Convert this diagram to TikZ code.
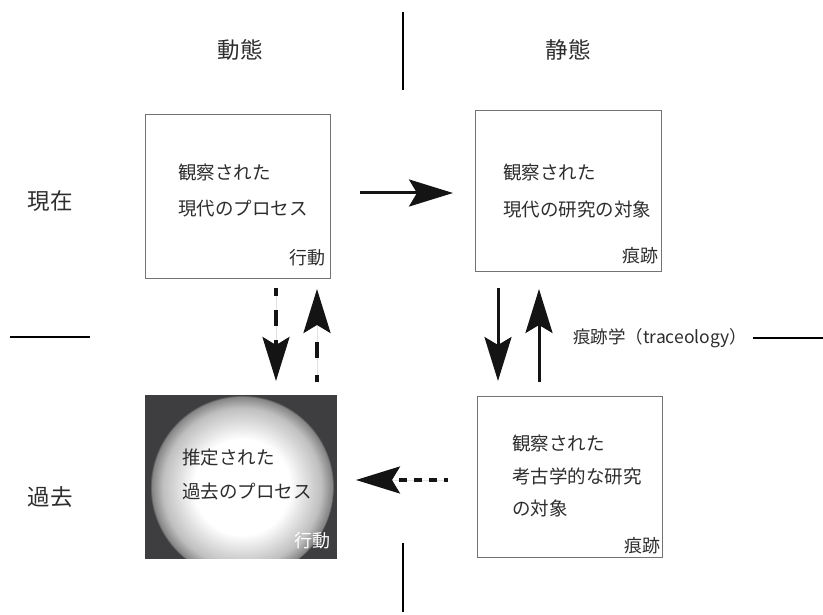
\documentclass[tikz,border=0pt]{standalone}
\usepackage{fontspec}
\setmainfont{Noto Sans CJK JP}
\usetikzlibrary{arrows.meta}
\definecolor{txt}{RGB}{45,45,45}
\definecolor{darkbox}{RGB}{62,62,65}
\pgfdeclareradialshading{glow}{\pgfpoint{0bp}{0bp}}{color(0bp)=(white); color(13bp)=(white); color(21.5bp)=(black!25); color(24.5bp)=(black!48); color(25bp)=(darkbox); color(50bp)=(darkbox)}
\tikzset{
  hdr/.style={font=\fontsize{22.5}{26}\selectfont, text=txt, inner sep=0pt},
  btxt/.style={font=\fontsize{18.5}{22}\selectfont, text=txt, inner sep=0pt, anchor=west},
  lbl/.style={font=\fontsize{18}{20}\selectfont, text=txt, inner sep=0pt, anchor=east},
  panel/.style={draw=black!55, line width=1pt, inner sep=0pt},
  sep/.style={line width=1.1pt, draw=black},
  bigtip/.style={-{Stealth[length=44pt,width=27pt,inset=8pt]}},
  solidarrow/.style={bigtip, line width=3pt, draw=black!92, fill=black!92},
  dasharrow/.style={bigtip, line width=3.3pt, draw=black!92, fill=black!92}
}
\begin{document}
\begin{tikzpicture}[x=1pt,y=-1pt]
\useasboundingbox (0,0) rectangle (823,615);
% separator lines
\coordinate (vt1) at (403,12); \coordinate (vt2) at (403,90);
\coordinate (vb1) at (403,543); \coordinate (vb2) at (403,612);
\coordinate (hl1) at (10,337); \coordinate (hl2) at (90,337);
\coordinate (hr1) at (753,338); \coordinate (hr2) at (823,338);
\draw[sep] (vt1) -- (vt2);
\draw[sep] (vb1) -- (vb2);
\draw[sep] (hl1) -- (hl2);
\draw[sep] (hr1) -- (hr2);
% headers
\node[hdr] (dyn) at (240,50) {動態};
\node[hdr] (sta) at (568,50) {静態};
\node[hdr] (now) at (50,201) {現在};
\node[hdr] (past) at (50,497) {過去};
% boxes
\node[panel, minimum width=185pt, minimum height=164pt] (b1) at (237.5,197) {};
\node[panel, minimum width=186pt, minimum height=161pt] (b2) at (568,191.5) {};
\node[panel, draw=darkbox, fill=darkbox, minimum width=191pt, minimum height=163pt] (b3) at (240.5,476.5) {};
\node[panel, minimum width=185pt, minimum height=161pt] (b4) at (569.5,476.5) {};
\begin{scope}
  \clip (b3.south west) rectangle (b3.north east);
  \shade[shading=glow] (242,487) circle[radius=92];
\end{scope}
% box texts
\node[btxt] (t1a) at (178,172) {観察された};
\node[btxt] (t1b) at (178,209) {現代のプロセス};
\node[lbl] (l1) at (326,258) {行動};
\node[btxt] (t2a) at (503,172) {観察された};
\node[btxt] (t2b) at (503,209) {現代の研究の対象};
\node[lbl] (l2) at (659,256) {痕跡};
\node[btxt] (t3a) at (182,457) {推定された};
\node[btxt] (t3b) at (182,492) {過去のプロセス};
\node[lbl, text=white] (l3) at (331,541) {行動};
\node[btxt] (t4a) at (512,443) {観察された};
\node[btxt] (t4b) at (512,476) {考古学的な研究};
\node[btxt] (t4c) at (512,508) {の対象};
\node[lbl] (l4) at (661,546) {痕跡};
\node[btxt, font=\fontsize{17.5}{20}\selectfont] (trc) at (573,338) {痕跡学（traceology）};
% arrows
\coordinate (r1) at (360,193); \coordinate (r2) at (453,193);
\coordinate (d1) at (276,288); \coordinate (d2) at (276,381);
\coordinate (u1) at (317,382); \coordinate (u2) at (317,289);
\coordinate (sd1) at (498,288); \coordinate (sd2) at (498,381);
\coordinate (su1) at (539,382); \coordinate (su2) at (539,289);
\coordinate (lf1) at (448,480); \coordinate (lf2) at (356,480);
\draw[solidarrow] (r1) -- (r2);
\draw[solidarrow] (sd1) -- (sd2);
\draw[solidarrow] (su1) -- (su2);
\draw[dasharrow, dash pattern=on 16pt off 14pt, dash phase=8pt] (d1) -- (d2);
\draw[dasharrow, dash pattern=on 16pt off 17pt, dash phase=9pt] (u1) -- (u2);
\draw[dasharrow, dash pattern=on 8pt off 7pt, dash phase=4pt] (lf1) -- (lf2);
\end{tikzpicture}
\end{document}
